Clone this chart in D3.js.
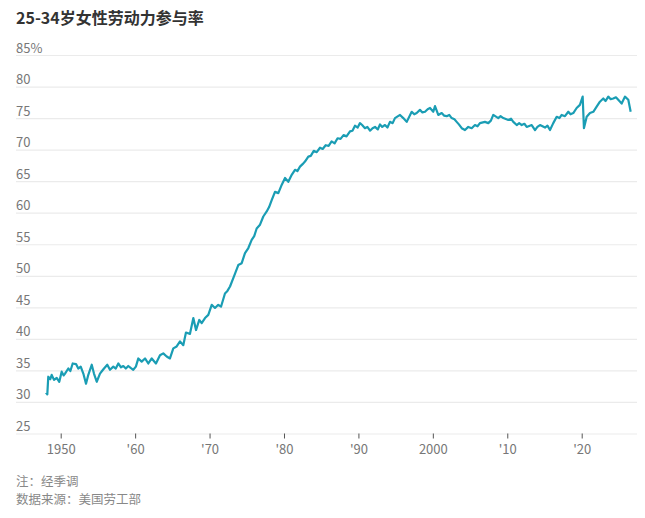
<!DOCTYPE html>
<html>
<head>
<meta charset="utf-8">
<script src="https://cdn.jsdelivr.net/npm/d3@7"></script>
<style>
  body { margin: 0; background: #fff; }
  svg { display: block; font-family: "Noto Sans CJK SC", "Noto Sans", sans-serif; }
</style>
</head>
<body>
<div id="chart"></div>
<script>
// Data (decimal year, participation rate %)
const years = [
  1948.02, 1948.20, 1948.33, 1948.60, 1948.79, 1949.10, 1949.46, 1949.81, 1950.13, 1950.40,
  1950.58, 1951.02, 1951.30, 1951.61, 1952.06, 1952.36, 1952.69, 1953.04, 1953.40, 1953.71,
  1954.17, 1954.47, 1954.84, 1955.28, 1955.55, 1955.82, 1956.26, 1956.62, 1957.07, 1957.40,
  1957.74, 1958.10, 1958.41, 1958.75, 1959.08, 1959.40, 1959.75, 1960.10, 1960.43, 1960.88,
  1961.33, 1961.77, 1962.23, 1962.80, 1963.34, 1963.78, 1964.24, 1964.68, 1965.13, 1965.58,
  1966.03, 1966.47, 1966.83, 1967.37, 1967.82, 1968.18, 1968.62, 1968.94, 1969.39, 1969.83,
  1970.29, 1970.73, 1971.17, 1971.54, 1972.07, 1972.40, 1972.75, 1973.28, 1973.86, 1974.32,
  1974.76, 1975.21, 1975.66, 1976.00, 1976.33, 1976.78, 1977.22, 1977.68, 1978.00, 1978.35,
  1978.79, 1979.24, 1979.69, 1980.14, 1980.58, 1981.04, 1981.48, 1981.80, 1982.15, 1982.50,
  1982.82, 1983.27, 1983.60, 1984.00, 1984.40, 1984.84, 1985.20, 1985.60, 1986.00, 1986.40,
  1986.80, 1987.20, 1987.60, 1988.00, 1988.40, 1988.87, 1989.20, 1989.54, 1989.90, 1990.21,
  1990.50, 1990.88, 1991.20, 1991.56, 1991.90, 1992.23, 1992.60, 1992.90, 1993.20, 1993.57,
  1993.90, 1994.24, 1994.60, 1994.91, 1995.59, 1996.03, 1996.49, 1997.16, 1997.50, 1997.83,
  1998.27, 1998.60, 1998.95, 1999.30, 1999.62, 2000.06, 2000.29, 2000.73, 2001.19, 2001.50,
  2001.86, 2002.20, 2002.53, 2002.90, 2003.20, 2003.50, 2003.88, 2004.32, 2004.76, 2005.22,
  2005.66, 2006.00, 2006.33, 2007.00, 2007.45, 2007.80, 2008.12, 2008.79, 2009.10, 2009.47,
  2010.14, 2010.50, 2010.81, 2011.27, 2011.60, 2011.94, 2012.30, 2012.61, 2013.28, 2013.73,
  2014.05, 2014.40, 2015.07, 2015.40, 2015.74, 2016.18, 2016.64, 2017.00, 2017.31, 2017.75,
  2018.20, 2018.50, 2018.87, 2019.32, 2019.76, 2020.13, 2020.30, 2020.67, 2021.11, 2021.56,
  2022.01, 2022.45, 2022.90, 2023.20, 2023.57, 2023.90, 2024.24, 2024.60, 2024.91, 2025.37,
  2025.81, 2026.26, 2026.58
];
const rates = [
  31.5, 31.2, 34.0, 33.6, 34.3, 33.5, 33.8, 33.2, 34.8, 34.2,
  34.5, 35.3, 34.9, 36.1, 36.0, 35.3, 35.6, 34.5, 32.9, 34.3,
  35.9, 34.5, 33.2, 34.5, 34.9, 35.3, 35.9, 35.1, 35.6, 35.3,
  36.1, 35.5, 35.7, 35.3, 35.7, 35.4, 35.1, 35.6, 36.9, 36.4,
  36.9, 36.1, 36.9, 36.1, 37.4, 37.7, 37.2, 36.9, 38.5, 38.8,
  39.6, 39.0, 41.0, 40.8, 43.3, 41.4, 43.0, 42.5, 43.3, 43.8,
  45.4, 44.9, 45.4, 45.1, 47.2, 47.6, 48.3, 49.9, 51.7, 52.0,
  53.6, 54.4, 55.7, 56.3, 57.5, 58.1, 59.4, 60.2, 60.9, 62.0,
  63.3, 63.1, 64.4, 65.5, 64.9, 66.0, 66.8, 66.6, 67.3, 67.7,
  68.1, 68.9, 69.0, 69.8, 69.6, 70.3, 70.1, 70.7, 70.6, 71.3,
  71.0, 71.8, 71.7, 72.3, 72.1, 72.9, 73.0, 73.8, 73.5, 74.2,
  73.9, 73.4, 73.6, 73.0, 73.4, 73.6, 73.2, 74.0, 73.6, 73.9,
  73.5, 74.4, 74.2, 75.0, 75.5, 75.0, 74.4, 76.0, 75.6, 75.8,
  76.3, 75.9, 76.0, 76.4, 76.6, 76.0, 76.9, 75.5, 75.8, 75.4,
  75.3, 75.5, 75.0, 74.8, 74.4, 74.0, 73.4, 73.1, 73.6, 73.4,
  73.9, 73.7, 74.2, 74.4, 74.2, 74.6, 75.5, 75.0, 75.3, 75.0,
  74.7, 74.9, 74.4, 73.9, 74.2, 73.9, 74.1, 73.6, 73.9, 73.1,
  73.6, 73.9, 73.5, 73.8, 73.1, 74.2, 75.2, 75.0, 75.5, 75.3,
  76.0, 75.6, 75.8, 76.6, 77.1, 78.4, 73.4, 75.2, 75.8, 76.0,
  76.8, 77.6, 78.1, 77.7, 78.4, 78.0, 78.1, 78.3, 77.9, 77.3,
  78.4, 77.9, 76.0
];
const yTicks = [25, 30, 35, 40, 45, 50, 55, 60, 65, 70, 75, 80, 85];
const xTicks = [1950, 1960, 1970, 1980, 1990, 2000, 2010, 2020];
const xTickLabels = ["1950", "'60", "'70", "'80", "'90", "2000", "'10", "'20"];
const title = "25-34岁女性劳动力参与率";
const notes = ["注：经季调", "数据来源：美国劳工部"];

const W = 645, H = 518;
const left = 16, right = 637;

const svg = d3.select("#chart").append("svg")
  .attr("width", W)
  .attr("height", H);

const x = d3.scaleLinear().domain([1950, 2020]).range([60.7, 581.7]);
const y = d3.scaleLinear().domain([25, 85]).range([433.5, 55]);

// title
svg.append("text")
  .attr("x", left)
  .attr("y", 24)
  .attr("font-size", 16)
  .attr("font-weight", 700)
  .attr("fill", "#333")
  .text(title);

// y gridlines + labels
const yAxis = svg.append("g")
  .attr("transform", `translate(${left},0)`)
  .call(d3.axisRight(y).tickValues(yTicks).tickSize(right - left)
    .tickFormat((d) => (d === 85 ? d + "%" : d)));
yAxis.select(".domain").remove();
yAxis.selectAll(".tick line").attr("stroke", "#ebebeb").attr("stroke-width", 1.2);
yAxis.selectAll(".tick text")
  .attr("x", 0)
  .attr("dy", -3)
  .attr("text-anchor", "start")
  .attr("font-size", 13)
  .attr("fill", "#777")
  .attr("font-family", "\"Noto Sans CJK SC\", sans-serif");

// x axis ticks + labels
const xAxis = svg.append("g")
  .attr("transform", `translate(0,${y(25)})`)
  .call(d3.axisBottom(x).tickValues(xTicks).tickSize(5).tickPadding(6)
    .tickFormat((d, i) => xTickLabels[i]));
xAxis.select(".domain").remove();
xAxis.selectAll(".tick line").attr("stroke", "#555");
xAxis.selectAll(".tick text")
  .attr("font-size", 13)
  .attr("fill", "#777")
  .attr("font-family", "\"Noto Sans CJK SC\", sans-serif");

// line
const line = d3.line()
  .x((d, i) => x(years[i]))
  .y((d) => y(d));

svg.append("path")
  .datum(rates)
  .attr("fill", "none")
  .attr("stroke", "#1a9db4")
  .attr("stroke-width", 2.2)
  .attr("stroke-linejoin", "round")
  .attr("d", line);

// footnotes
svg.selectAll(".note")
  .data(notes)
  .join("text")
  .attr("class", "note")
  .attr("x", left)
  .attr("y", (d, i) => 486 + i * 18.2)
  .attr("font-size", 12.5)
  .attr("fill", "#888")
  .text((d) => d);
</script>
</body>
</html>
